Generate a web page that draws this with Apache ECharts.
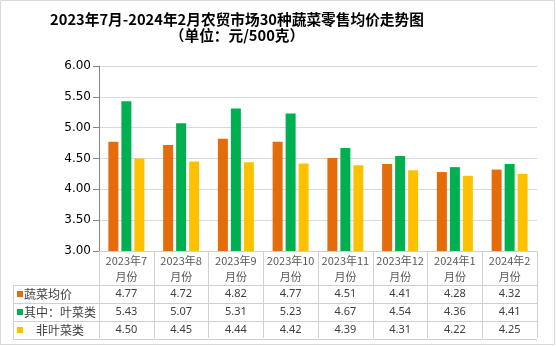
<!DOCTYPE html>
<html><head><meta charset="utf-8">
<script src="https://cdn.jsdelivr.net/npm/echarts@6/dist/echarts.min.js"></script>
<style>html,body{margin:0;padding:0;background:#fff}#c{width:556px;height:346px}</style>
</head><body><div id="c"></div>
<script>
const categories = ["2023年7月份","2023年8月份","2023年9月份","2023年10月份","2023年11月份","2023年12月份","2024年1月份","2024年2月份"];
const seriesNames = ["蔬菜均价","其中：叶菜类","非叶菜类"];
const avgPrice = [4.77,4.72,4.82,4.77,4.51,4.41,4.28,4.32];
const leafyPrice = [5.43,5.07,5.31,5.23,4.67,4.54,4.36,4.41];
const nonLeafyPrice = [4.50,4.45,4.44,4.42,4.39,4.31,4.22,4.25];
const yTicks = [3.00,3.50,4.00,4.50,5.00,5.50,6.00];
const titleLines = ["2023年7月-2024年2月农贸市场30种蔬菜零售均价走势图","（单位：元/500克）"];
const colors = ["#E46C0A","#00B050","#FFC000"];

const allData = [avgPrice, leafyPrice, nonLeafyPrice];
const G = {left:99, right:19, top:66, bottom:95};
const W = 556, H = 346;
const gx0 = G.left, gx1 = W - G.right, gy1 = H - G.bottom;
const rowTop = gy1 + 34, rowH = 18;
const lineColor = '#d0d0d0';

const chart = echarts.init(document.getElementById('c'), null, {renderer:'canvas'});

const graphics = [];
graphics.push({type:'rect', shape:{x:0.5,y:0.5,width:W-2,height:H-2}, style:{fill:null, stroke:'#d9d9d9', lineWidth:1}, silent:true});
for (let r = 0; r <= 3; r++) {
  const y = Math.round(rowTop + r*rowH) + 0.5;
  graphics.push({type:'line', shape:{x1:13, y1:y, x2:gx1, y2:y}, style:{stroke:lineColor, lineWidth:1}, silent:true});
}
graphics.push({type:'line', shape:{x1:13.5, y1:rowTop, x2:13.5, y2:rowTop+3*rowH}, style:{stroke:lineColor, lineWidth:1}, silent:true});
seriesNames.forEach((n, i) => {
  const cy = rowTop + i*rowH + rowH/2;
  graphics.push({type:'rect', shape:{x:17, y:Math.round(cy-3), width:6, height:6}, style:{fill:colors[i]}, silent:true});
  graphics.push({type:'text', x: i===2 ? 36 : 24, y: cy, style:{text:n, fontSize:12, fontFamily:'"Noto Sans CJK SC", sans-serif', fill:'#404040', verticalAlign:'middle', align:'left'}, silent:true});
});

const titleStyle = {fontSize:14.7, fontWeight:'bold', color:'#000', fontFamily:'"Noto Sans CJK SC", sans-serif'};
const option = {
  animation:false,
  backgroundColor:'#fff',
  title: titleLines.map((t, i) => ({
    text:t, left:237, top:12 + i*16, textAlign:'center', padding:0,
    textStyle:titleStyle
  })),
  grid:{left:G.left, right:G.right, top:G.top, bottom:G.bottom, containLabel:false},
  xAxis:{
    type:'category', data:categories,
    axisLine:{show:true, lineStyle:{color:lineColor}},
    axisTick:{show:true, length:87, lineStyle:{color:lineColor}},
    axisLabel:{
      margin:2, interval:0,
      formatter:(v, idx) => {
        const p = v.replace('月份','');
        return '{c|' + p + '}\n{c|月份}\n{v|' + avgPrice[idx].toFixed(2) + '}\n{v|' + leafyPrice[idx].toFixed(2) + '}\n{v|' + nonLeafyPrice[idx].toFixed(2) + '}';
      },
      rich:{
        c:{fontSize:11, lineHeight:16, color:'#595959', fontFamily:'"Noto Sans CJK SC", sans-serif'},
        v:{fontSize:11, lineHeight:18, color:'#404040', fontFamily:'"Noto Sans", sans-serif'}
      }
    }
  },
  yAxis:{
    type:'value', min:yTicks[0], max:yTicks[yTicks.length-1], interval:0.5,
    axisLine:{show:true, lineStyle:{color:'#868686'}},
    axisTick:{show:true, length:6, lineStyle:{color:'#868686'}},
    axisLabel:{formatter:v => v.toFixed(2), fontSize:12, color:'#000', margin:8, fontFamily:'"DejaVu Sans", sans-serif'},
    splitLine:{show:true, lineStyle:{color:'#d9d9d9'}}
  },
  series: seriesNames.map((n, i) => ({
    name:n, type:'bar', data:allData[i], barWidth:10, barGap:'30%',
    itemStyle:{color:colors[i]}
  })),
  graphic: graphics
};
chart.setOption(option);
</script></body></html>
